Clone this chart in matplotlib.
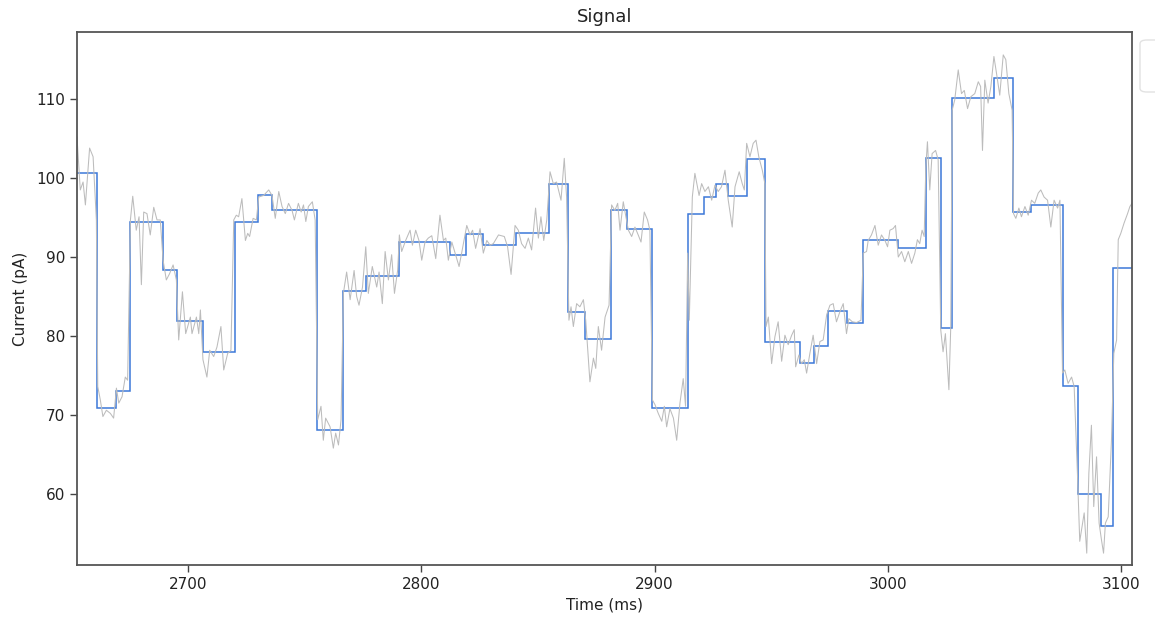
import matplotlib
matplotlib.use("Agg")
import matplotlib.pyplot as plt
from matplotlib.patches import FancyBboxPatch

# Raw current trace (ms, pA)
trace_t = [
    2652.4, 2653.8, 2655.0, 2656.0, 2657.8, 2659.3, 2660.7, 2661.3, 2662.4, 2663.5,
    2665.0, 2666.7, 2668.1, 2669.3, 2670.3, 2671.7, 2673.1, 2674.1, 2675.3, 2676.3,
    2677.8, 2679.0, 2680.0, 2681.0, 2682.4, 2683.8, 2685.3, 2686.7, 2688.1, 2689.3,
    2690.7, 2692.1, 2693.6, 2695.0, 2696.0, 2697.6, 2699.0, 2701.0, 2701.7, 2703.6,
    2704.6, 2705.3, 2706.4, 2708.1, 2709.3, 2711.0, 2712.4, 2714.1, 2715.3, 2717.0,
    2718.4, 2719.6, 2720.7, 2721.7, 2723.1, 2724.6, 2725.6, 2726.4, 2727.9, 2729.3,
    2730.3, 2732.4, 2734.6, 2736.0, 2737.4, 2738.9, 2740.3, 2741.7, 2743.1, 2744.6,
    2745.6, 2747.3, 2748.5, 2749.5, 2750.5, 2751.6, 2753.3, 2754.5, 2755.6, 2757.0,
    2758.0, 2759.0, 2760.9, 2762.3, 2763.3, 2764.5, 2765.6, 2766.6, 2768.0, 2769.5,
    2771.2, 2772.3, 2773.3, 2774.8, 2776.2, 2777.3, 2779.0, 2780.9, 2781.9, 2783.3,
    2784.5, 2785.9, 2787.3, 2788.5, 2789.9, 2790.6, 2791.6, 2793.3, 2795.2, 2796.2,
    2797.6, 2799.0, 2800.2, 2801.6, 2803.0, 2804.5, 2806.2, 2808.0, 2809.5, 2810.5,
    2811.6, 2813.1, 2814.5, 2816.2, 2817.3, 2819.5, 2820.9, 2822.0, 2823.3, 2825.2,
    2826.6, 2828.1, 2829.5, 2830.9, 2833.1, 2835.6, 2837.0, 2838.5, 2840.2, 2841.6,
    2843.0, 2844.5, 2845.9, 2847.3, 2849.0, 2850.2, 2851.3, 2852.5, 2853.8, 2855.2,
    2856.6, 2858.0, 2859.9, 2861.3, 2862.3, 2863.3, 2864.2, 2865.2, 2866.6, 2868.0,
    2869.5, 2870.5, 2871.3, 2872.3, 2873.8, 2874.8, 2875.9, 2877.3, 2878.8, 2880.5,
    2881.6, 2883.0, 2884.2, 2885.2, 2886.6, 2887.6, 2888.8, 2890.2, 2891.6, 2893.0,
    2894.2, 2895.6, 2897.0, 2898.0, 2899.1, 2900.2, 2901.6, 2903.1, 2904.2, 2905.2,
    2906.6, 2908.1, 2909.5, 2910.9, 2912.3, 2913.3, 2914.2, 2914.9, 2916.2, 2917.3,
    2919.1, 2920.2, 2921.6, 2923.1, 2924.5, 2925.9, 2927.3, 2928.7, 2930.2, 2931.6,
    2933.3, 2934.5, 2936.3, 2937.6, 2938.5, 2939.5, 2940.9, 2942.3, 2943.5, 2944.7,
    2946.2, 2947.3, 2947.8, 2948.8, 2950.2, 2951.6, 2953.0, 2954.5, 2955.9, 2957.3,
    2958.8, 2959.9, 2960.5, 2961.9, 2963.0, 2964.2, 2965.2, 2966.6, 2968.0, 2969.5,
    2970.9, 2972.3, 2973.8, 2975.2, 2976.6, 2978.0, 2979.5, 2980.9, 2982.3, 2983.3,
    2984.8, 2986.6, 2988.5, 2989.5, 2990.9, 2991.6, 2993.0, 2994.5, 2995.9, 2997.3,
    2998.8, 2999.9, 3000.9, 3002.3, 3003.3, 3004.5, 3005.9, 3007.3, 3008.8, 3010.2,
    3011.6, 3012.7, 3013.7, 3014.7, 3015.6, 3016.3, 3017.0, 3018.0, 3019.0, 3020.5,
    3021.6, 3022.7, 3023.7, 3024.7, 3026.2, 3027.0, 3027.6, 3028.7, 3030.2, 3031.6,
    3032.8, 3034.2, 3035.6, 3037.3, 3038.8, 3039.8, 3040.6, 3041.6, 3043.0, 3044.2,
    3045.5, 3046.6, 3048.0, 3049.5, 3050.6, 3051.9, 3053.3, 3053.9, 3054.9, 3056.2,
    3057.3, 3058.8, 3060.2, 3061.6, 3063.0, 3064.5, 3065.6, 3067.0, 3068.5, 3069.9,
    3071.3, 3072.8, 3073.8, 3074.9, 3075.9, 3077.3, 3078.8, 3079.9, 3081.3, 3082.3,
    3084.2, 3085.3, 3086.2, 3087.3, 3088.3, 3089.5, 3090.6, 3091.6, 3092.5, 3093.3,
    3094.5, 3095.9, 3096.9, 3098.1, 3098.8, 3099.9, 3101.3, 3102.8, 3103.8, 3104.7,
]
trace_v = [
    105.2, 98.5, 99.5, 96.6, 103.8, 102.7, 94.7, 73.6, 71.9, 69.8,
    70.6, 70.2, 69.6, 73.4, 71.5, 72.3, 74.8, 74.4, 94.7, 97.7,
    93.4, 95.1, 86.5, 95.7, 95.5, 92.8, 96.3, 94.7, 94.7, 89.6,
    87.1, 87.9, 89.0, 87.1, 79.5, 85.6, 80.3, 82.4, 80.3, 82.4,
    80.3, 83.3, 77.0, 74.8, 78.2, 77.4, 78.6, 81.2, 75.7, 77.8,
    78.2, 94.7, 95.3, 95.1, 97.4, 92.1, 93.0, 92.6, 94.9, 94.7,
    97.6, 97.8, 98.5, 97.8, 94.9, 98.3, 96.4, 95.5, 96.8, 95.9,
    94.7, 96.8, 95.7, 96.6, 94.5, 96.4, 97.0, 94.7, 69.4, 71.1,
    66.8, 69.6, 68.5, 65.8, 67.7, 66.2, 69.4, 85.4, 88.1, 84.6,
    88.3, 85.0, 83.9, 86.2, 91.3, 85.4, 88.8, 86.2, 88.1, 84.1,
    90.7, 87.1, 90.3, 85.4, 88.4, 92.8, 90.7, 92.1, 93.4, 91.5,
    93.4, 92.1, 89.6, 91.9, 92.4, 92.7, 89.8, 95.3, 92.1, 92.4,
    89.6, 91.9, 90.5, 88.8, 90.5, 94.0, 92.8, 93.4, 91.1, 93.6,
    90.5, 92.1, 91.5, 91.7, 92.8, 92.6, 91.3, 87.8, 94.0, 93.4,
    91.7, 91.1, 92.4, 90.9, 96.2, 92.4, 95.1, 92.1, 94.7, 100.8,
    99.3, 99.5, 97.2, 102.5, 97.6, 82.0, 83.7, 81.2, 84.1, 83.7,
    84.6, 82.0, 78.6, 74.2, 77.2, 75.9, 81.2, 78.2, 82.4, 83.9,
    96.6, 95.9, 96.8, 93.4, 97.0, 95.3, 93.4, 92.6, 93.8, 92.8,
    91.9, 95.7, 94.7, 93.4, 71.9, 71.3, 70.2, 69.2, 71.1, 68.5,
    70.8, 69.6, 66.8, 71.5, 74.6, 71.1, 90.5, 82.0, 97.6, 100.6,
    97.8, 99.3, 98.3, 98.9, 97.2, 99.1, 98.3, 98.9, 101.0, 97.2,
    93.8, 98.9, 100.8, 99.3, 98.5, 104.4, 102.7, 104.4, 104.8, 102.7,
    101.0, 99.3, 81.2, 82.4, 76.5, 79.9, 81.8, 76.8, 80.1, 78.9,
    80.1, 80.8, 76.1, 77.6, 76.5, 77.0, 75.3, 77.8, 80.1, 76.5,
    79.3, 79.5, 82.7, 83.9, 84.1, 81.8, 83.1, 84.1, 80.3, 82.2,
    81.8, 81.7, 82.0, 90.5, 90.7, 92.1, 92.8, 94.0, 91.5, 92.8,
    92.1, 91.3, 93.4, 93.6, 94.0, 90.0, 90.7, 89.4, 90.7, 89.2,
    90.5, 92.2, 91.7, 93.4, 92.6, 101.4, 104.6, 98.5, 103.1, 103.5,
    102.3, 80.8, 78.0, 80.3, 73.2, 81.2, 108.6, 109.9, 113.7, 110.7,
    111.1, 108.8, 110.3, 110.7, 112.2, 111.6, 103.5, 112.4, 109.5, 111.6,
    115.4, 113.3, 110.5, 115.6, 115.0, 110.7, 108.6, 95.5, 94.9, 96.2,
    95.1, 96.4, 95.3, 97.2, 96.8, 98.1, 98.5, 97.6, 97.2, 93.8,
    97.2, 96.2, 97.2, 75.3, 75.7, 74.0, 74.8, 73.6, 62.6, 54.0,
    57.6, 52.5, 62.6, 68.7, 58.4, 64.7, 56.3, 54.2, 52.5, 56.3,
    57.1, 66.8, 77.8, 79.5, 92.2, 93.0, 94.3, 95.5, 96.4, 96.8,
]

# Idealised step levels (pA) and the edges between them (ms)
step_edges = [
    2652.4, 2661.1, 2669.1, 2675.1, 2689.2, 2695.3, 2706.3, 2720.3, 2730.2, 2736.1,
    2755.3, 2766.5, 2776.5, 2790.5, 2812.1, 2819.2, 2826.4, 2840.5, 2854.6, 2863.1,
    2870.4, 2881.4, 2888.3, 2898.9, 2914.4, 2921.3, 2926.5, 2931.7, 2939.5, 2947.5,
    2962.4, 2968.3, 2974.5, 2982.5, 2989.4, 3004.5, 3016.3, 3022.7, 3027.7, 3045.7,
    3053.8, 3061.4, 3075.3, 3081.4, 3091.4, 3096.4, 3104.7,
]
step_levels = [
    100.7, 70.9, 73.0, 94.5, 88.4, 81.9, 78.0, 94.4, 97.8, 95.9,
    68.1, 85.7, 87.6, 91.9, 90.3, 92.9, 91.5, 93.1, 99.2, 83.0,
    79.6, 95.9, 93.6, 70.9, 95.5, 97.6, 99.2, 97.7, 102.4, 79.3,
    76.6, 78.7, 83.2, 81.6, 92.2, 91.2, 102.6, 81.0, 110.2, 112.7,
    95.7, 96.6, 73.7, 60.0, 56.0, 88.6,
]

fig = plt.figure(figsize=(11.55, 6.18), dpi=100)
ax = fig.add_axes([77 / 1155, 1 - 565 / 618, (1132 - 77) / 1155, (565 - 32) / 618])

ax.plot(trace_t, trace_v, color="#bcbcbc", linewidth=0.75, label="Signal")
ax.stairs(step_levels, step_edges, baseline=None, color="#3c78d8",
          linewidth=1.1, label="Levels")

ax.set_xlim(2652.4, 3104.7)
ax.set_ylim(51.0, 118.5)
ax.set_xticks([2700, 2800, 2900, 3000, 3100])
ax.set_yticks([60, 70, 80, 90, 100, 110])
ax.tick_params(labelsize=11, length=5, width=1, color="#444444",
               labelcolor="#222222")

for s in ax.spines.values():
    s.set_color("#555555")
    s.set_linewidth(1.3)

ax.set_title("Signal", fontsize=13, pad=7, color="#222222")
ax.set_xlabel("Time (ms)", fontsize=11, labelpad=4, color="#222222")
ax.set_ylabel("Current (pA)", fontsize=11, labelpad=6, color="#222222")

# Legend frame sitting beyond the right edge of the figure
fig.patches.append(FancyBboxPatch(
    (1140 / 1155, 1 - 92 / 618), 0.05, 52 / 618,
    boxstyle="round,pad=0,rounding_size=0.006",
    transform=fig.transFigure, facecolor="white",
    edgecolor="#e2e2e2", linewidth=1.0))

fig.savefig("out.png", dpi=100)
